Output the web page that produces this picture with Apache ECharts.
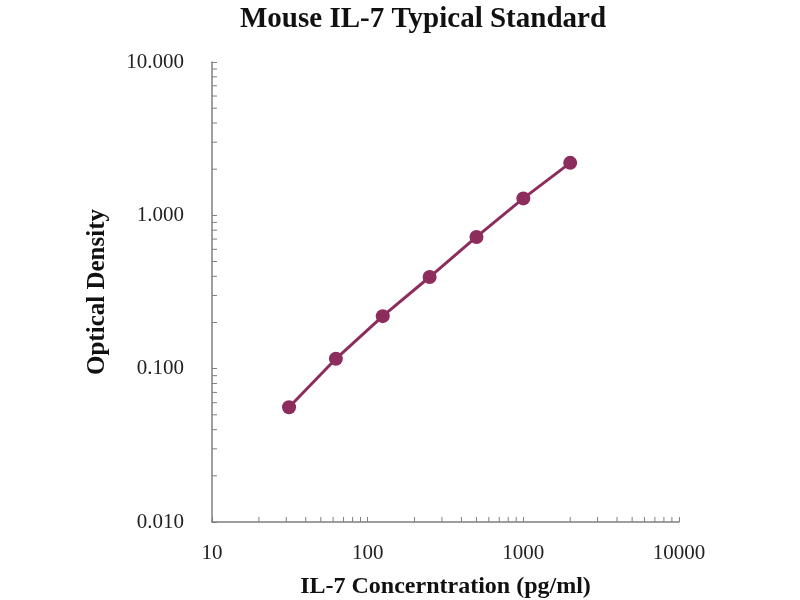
<!DOCTYPE html>
<html>
<head>
<meta charset="utf-8">
<script src="https://cdn.jsdelivr.net/npm/echarts@6/dist/echarts.min.js"></script>
<style>
html, body { margin: 0; padding: 0; background: #fff; }
#chart { width: 800px; height: 600px; }
</style>
</head>
<body>
<div id="chart"></div>
<script>
// 标准曲线数据
var concentrations = [31.25, 62.5, 125, 250, 500, 1000, 2000];
var odValues = [0.056, 0.116, 0.220, 0.396, 0.723, 1.29, 2.20];

var xTickLabels = ['10', '100', '1000', '10000'];
var yTickLabels = ['0.010', '0.100', '1.000', '10.000'];

var lineColor = '#8c2d5e';
var axisColor = '#7f7f7f';
var serif = '"Liberation Serif", "Times New Roman", serif';

// 对数次刻度 2..9
function minorTicks(start, decades) {
    var list = [];
    for (var d = 0; d < decades; d++) {
        var base = start * Math.pow(10, d);
        for (var k = 2; k <= 9; k++) list.push(base * k);
    }
    return list;
}
var xMinor = minorTicks(10, 3);
var yMinor = minorTicks(0.01, 3);

function labelFor(list, firstExp) {
    return function (value) {
        var i = Math.round(Math.log10(value)) - firstExp;
        return list[i] !== undefined ? list[i] : '';
    };
}

var tickData = [];
xMinor.forEach(function (v) { tickData.push([v, 0.01, 0]); });
yMinor.forEach(function (v) { tickData.push([10, v, 1]); });

var myChart = echarts.init(document.getElementById('chart'));
var option = {
    animation: false,
    backgroundColor: '#fff',
    title: {
        text: 'Mouse IL-7 Typical Standard',
        left: 418,
        textAlign: 'center',
        top: 0,
        textStyle: { fontFamily: serif, fontWeight: 'bold', fontSize: 29, color: '#111' }
    },
    grid: { left: 212, right: 121, top: 62, bottom: 78, containLabel: false, outerBoundsMode: 'none' },
    xAxis: {
        type: 'log',
        logBase: 10,
        min: 10,
        max: 10000,
        name: 'IL-7 Concerntration (pg/ml)',
        nameLocation: 'middle',
        nameGap: 53,
        nameTextStyle: { fontFamily: serif, fontWeight: 'bold', fontSize: 24, color: '#111' },
        axisLine: { lineStyle: { color: axisColor, width: 1.5 } },
        axisTick: { show: true, inside: true, length: 5, lineStyle: { color: axisColor } },
        axisLabel: { formatter: labelFor(xTickLabels, 1), margin: 21, fontFamily: serif, fontSize: 21, color: '#222' },
        splitLine: { show: false }
    },
    yAxis: {
        type: 'log',
        logBase: 10,
        min: 0.01,
        max: 10,
        name: 'Optical Density',
        nameLocation: 'middle',
        nameGap: 102,
        nameTextStyle: { fontFamily: serif, fontWeight: 'bold', fontSize: 25, color: '#111' },
        axisLine: { show: true, lineStyle: { color: axisColor, width: 1.5 } },
        axisTick: { show: true, inside: true, length: 5, lineStyle: { color: axisColor } },
        axisLabel: { formatter: labelFor(yTickLabels, -2), margin: 28, fontFamily: serif, fontSize: 21, color: '#222' },
        splitLine: { show: false }
    },
    series: [
        {
            // 次刻度
            type: 'custom',
            silent: true,
            clip: false,
            data: tickData,
            renderItem: function (params, api) {
                var p = api.coord([api.value(0), api.value(1)]);
                var horiz = api.value(2) === 1;
                return {
                    type: 'line',
                    shape: horiz
                        ? { x1: p[0], y1: p[1], x2: p[0] + 5, y2: p[1] }
                        : { x1: p[0], y1: p[1], x2: p[0], y2: p[1] - 5 },
                    style: { stroke: axisColor, lineWidth: 1 }
                };
            },
            z: 1
        },
        {
            name: 'OD',
            type: 'line',
            data: concentrations.map(function (c, i) { return [c, odValues[i]]; }),
            symbol: 'circle',
            symbolSize: 14,
            lineStyle: { color: lineColor, width: 3 },
            itemStyle: { color: lineColor },
            z: 3
        }
    ]
};
myChart.setOption(option);
</script>
</body>
</html>
